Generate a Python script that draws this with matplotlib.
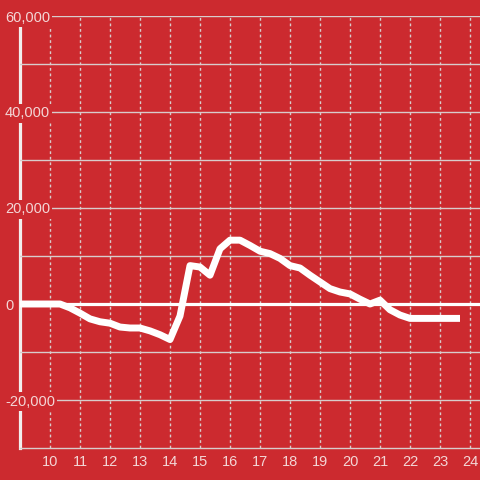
import matplotlib
matplotlib.use('Agg')
import matplotlib.pyplot as plt

# time of day (HH:MM) and value
times = ['9:00', '9:20', '9:40', '10:00', '10:20', '10:40', '11:00', '11:20', '11:40',
         '12:00', '12:20', '12:40', '13:00', '13:20', '13:40', '14:00', '14:20', '14:40',
         '15:00', '15:20', '15:40', '16:00', '16:20', '16:40', '17:00', '17:20', '17:40',
         '18:00', '18:20', '18:40', '19:00', '19:20', '19:40', '20:00', '20:20', '20:40',
         '21:00', '21:20', '21:40', '22:00', '22:20', '22:40', '23:00', '23:20', '23:40']
values = [0, 0, 0, 0, 0, -800, -1900, -3100, -3700,
          -4000, -4800, -5000, -5000, -5600, -6400, -7400, -2500, 8000,
          7700, 6000, 11500, 13300, 13300, 12200, 11000, 10500, 9500,
          8000, 7500, 6000, 4600, 3200, 2500, 2100, 1000, 0,
          800, -1200, -2300, -3000, -3000, -3000, -3000, -3000, -3000]

xticks = list(range(10, 25))
yticks = [-20000, 0, 20000, 40000, 60000]
ylabels = ['-20,000', '0', '20,000', '40,000', '60,000']
ygrid = [-20000, -10000, 0, 10000, 20000, 30000, 40000, 50000, 60000]

bg = '#cc2a2f'
txt = '#f3d6d6'
grid_c = '#d8cccc'

plt.rcParams['font.family'] = ['Liberation Sans', 'DejaVu Sans']

hours = []
for t in times:
    h, m = t.split(':')
    hours.append(int(h) + int(m) / 60)

fig = plt.figure(figsize=(4.8, 4.8), dpi=100, facecolor=bg)
ax = fig.add_axes([20 / 480, 32 / 480, 460 / 480, 432 / 480])
ax.set_facecolor(bg)

ax.plot(hours, values, color='white', lw=5, solid_capstyle='butt',
        solid_joinstyle='round', zorder=3)
ax.axhline(0, color='white', lw=2.3, zorder=1.6)

ax.set_xlim(9, 24 + 1 / 3)
ax.set_ylim(-30000, 60000)
ax.set_xticks(xticks)
ax.set_yticks(yticks, labels=ylabels)
ax.set_yticks(ygrid, minor=True)

ax.grid(axis='y', which='both', color=grid_c, lw=1)
ax.grid(axis='x', color=grid_c, lw=1, linestyle=(0, (2, 2)))

for s in ['top', 'right']:
    ax.spines[s].set_visible(False)
ax.spines['left'].set_color('#f2eded')
ax.spines['left'].set_linewidth(2.3)
ax.spines['left'].set_zorder(1)
ax.spines['bottom'].set_color(grid_c)
ax.spines['bottom'].set_linewidth(1)

ax.tick_params(axis='x', length=0, pad=5, labelsize=10.5, labelcolor=txt)
ax.tick_params(axis='y', which='both', length=0, pad=10.8, labelsize=10.5, labelcolor=txt)
plt.setp(ax.get_yticklabels(), ha='left',
         bbox=dict(facecolor=bg, edgecolor='none', pad=1.5))

fig.savefig('out.png', dpi=100, facecolor=bg)
